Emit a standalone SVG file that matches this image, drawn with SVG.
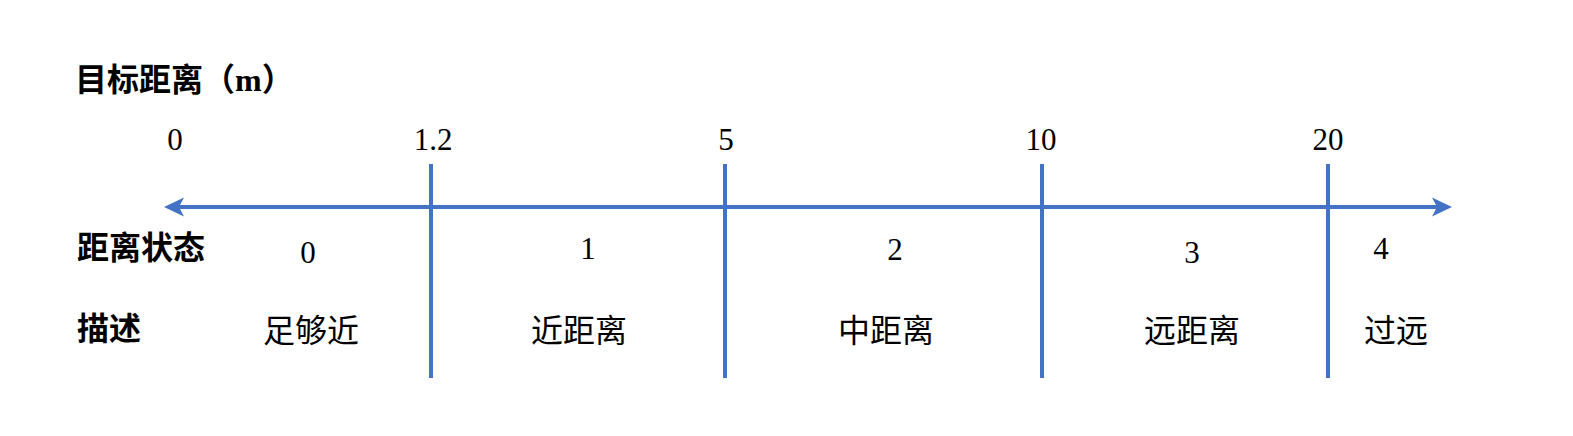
<svg xmlns="http://www.w3.org/2000/svg" width="1573" height="436" viewBox="0 0 1573 436">
  <style>
    .axis { stroke: #4472C4; stroke-width: 4; fill: none; }
    .tick { stroke: #4472C4; stroke-width: 4; }
    .num { font-family: "Liberation Serif", "Times New Roman", serif; font-size: 31px; fill: #000; text-anchor: middle; }
    .desc { font-family: "Noto Sans CJK SC", sans-serif; font-size: 32px; fill: #000; text-anchor: middle; }
    .head { font-family: "Liberation Serif", "Noto Sans CJK SC", serif; font-size: 32px; font-weight: bold; fill: #000; }
  </style>
  <defs>
    <marker id="arrow" viewBox="0 0 20 20" refX="14" refY="10" markerWidth="20" markerHeight="20" markerUnits="userSpaceOnUse" orient="auto-start-reverse">
      <path d="M0,0.5 L20,10 L0,19.5 L5,10 Z" fill="#4472C4"/>
    </marker>
  </defs>
  <rect width="1573" height="436" fill="#fff"/>

  <g id="connectors">
    <line class="axis" x1="170" y1="207" x2="1446" y2="207" marker-start="url(#arrow)" marker-end="url(#arrow)"/>
    <line class="tick" x1="431" y1="164" x2="431" y2="378"/>
    <line class="tick" x1="725" y1="164" x2="725" y2="378"/>
    <line class="tick" x1="1042" y1="164" x2="1042" y2="378"/>
    <line class="tick" x1="1328" y1="164" x2="1328" y2="378"/>
  </g>

  <g id="title"><text class="head" x="75" y="91">目标距离（m）</text></g>
  <g id="row-state-label"><text class="head" x="77" y="259">距离状态</text></g>
  <g id="row-desc-label"><text class="head" x="77" y="340">描述</text></g>

  <g id="ticks-labels">
    <text class="num" x="175" y="150">0</text>
    <text class="num" x="433" y="150">1.2</text>
    <text class="num" x="726" y="150">5</text>
    <text class="num" x="1041" y="150">10</text>
    <text class="num" x="1328" y="150">20</text>
  </g>

  <g id="zone0">
    <text class="num" x="308" y="263">0</text>
    <text class="desc" x="311" y="342">足够近</text>
  </g>
  <g id="zone1">
    <text class="num" x="588" y="259">1</text>
    <text class="desc" x="579" y="342">近距离</text>
  </g>
  <g id="zone2">
    <text class="num" x="895" y="260">2</text>
    <text class="desc" x="886" y="342">中距离</text>
  </g>
  <g id="zone3">
    <text class="num" x="1192" y="263">3</text>
    <text class="desc" x="1192" y="342">远距离</text>
  </g>
  <g id="zone4">
    <text class="num" x="1381" y="259">4</text>
    <text class="desc" x="1396" y="342">过远</text>
  </g>
</svg>
